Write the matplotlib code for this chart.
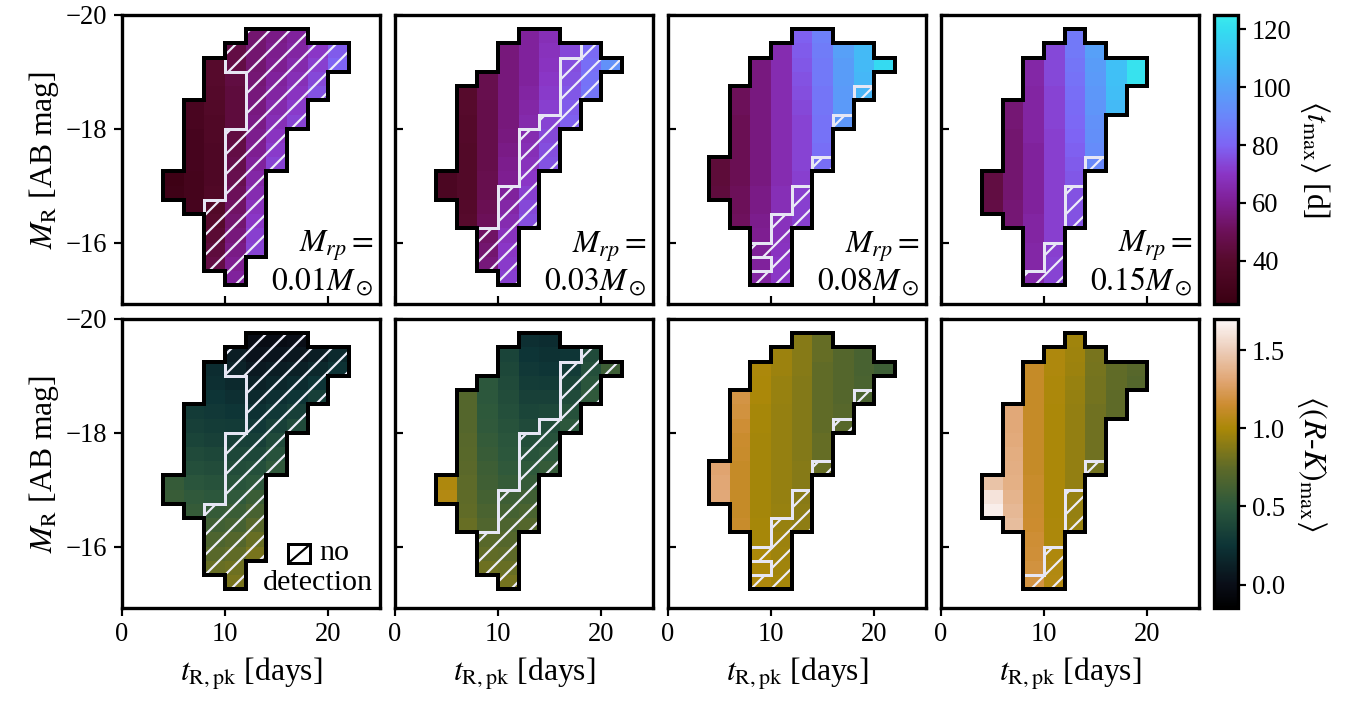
"""Detectability grids: mean t_max and mean (R-K)_max over (t_R,pk, M_R) bins."""
import matplotlib

matplotlib.use("Agg")
import matplotlib.pyplot as plt
import numpy as np
from matplotlib.cm import ScalarMappable
from matplotlib.collections import LineCollection
from matplotlib.colors import LinearSegmentedColormap, Normalize
from matplotlib.patches import Rectangle

n = np.nan

# bin edges: t_R,pk [days] columns, M_R [AB mag] rows (bright -> faint)
T_EDGES = [4, 6, 8, 10, 12, 14, 16, 18, 20, 22]
M_EDGES = [-19.75, -19.5, -19.25, -19.0, -18.75, -18.5, -18.25, -18.0, -17.75,
           -17.5, -17.25, -17.0, -16.75, -16.5, -16.25, -16.0, -15.75, -15.5,
           -15.25]

MRP_LABELS = ["0.01", "0.03", "0.08", "0.15"]

# <t_max> [d], one grid per Mrp
TMAX_001 = [
    [n, n, n, n, 54, 58, 62, n, n],
    [n, n, n, 46, 54, 59, 63, 70, 78],
    [n, n, 40, 46, 54, 60, 65, 72, 80],
    [n, n, 40, 45, 55, 62, 67, 74, n],
    [n, n, 39, 44, 56, 63, 69, 76, n],
    [n, 33, 38, 44, 57, 65, 71, n, n],
    [n, 33, 37, 44, 58, 67, 73, n, n],
    [n, 32, 37, 45, 59, 69, n, n, n],
    [n, 32, 36, 46, 60, 71, n, n, n],
    [n, 32, 36, 47, 62, 73, n, n, n],
    [27, 31, 36, 48, 64, n, n, n, n],
    [28, 31, 37, 50, 66, n, n, n, n],
    [n, 32, 38, 52, 68, n, n, n, n],
    [n, n, 40, 54, 70, n, n, n, n],
    [n, n, 42, 56, 72, n, n, n, n],
    [n, n, 44, 58, 73, n, n, n, n],
    [n, n, 46, 60, n, n, n, n, n],
    [n, n, n, 62, n, n, n, n, n],
]
TMAX_003 = [
    [n, n, n, n, 62, 67, n, n, n],
    [n, n, n, 56, 62, 68, 74, 82, n],
    [n, n, n, 56, 62, 69, 75, 83, 94],
    [n, n, 48, 56, 62, 70, 76, 84, n],
    [n, 40, 48, 56, 63, 71, 77, 85, n],
    [n, 40, 47, 56, 64, 72, 78, n, n],
    [n, 39, 47, 56, 65, 73, 79, n, n],
    [n, 39, 47, 57, 66, 74, n, n, n],
    [n, 38, 47, 58, 67, 75, n, n, n],
    [n, 38, 47, 59, 68, 76, n, n, n],
    [34, 38, 48, 60, 70, n, n, n, n],
    [34, 38, 48, 62, 72, n, n, n, n],
    [n, 39, 49, 64, 74, n, n, n, n],
    [n, 40, 50, 66, 75, n, n, n, n],
    [n, n, 52, 68, n, n, n, n, n],
    [n, n, 54, 70, n, n, n, n, n],
    [n, n, 56, 71, n, n, n, n, n],
    [n, n, n, 72, n, n, n, n, n],
]
TMAX_008 = [
    [n, n, n, n, 79, 88, n, n, n],
    [n, n, n, 66, 78, 87, 99, 108, n],
    [n, n, 57, 66, 77, 86, 98, 108, 119],
    [n, n, 57, 66, 76, 86, 98, 107, n],
    [n, 50, 57, 66, 75, 85, 97, 106, n],
    [n, 50, 57, 66, 74, 85, 97, n, n],
    [n, 49, 57, 66, 73, 84, 96, n, n],
    [n, 49, 57, 66, 73, 84, n, n, n],
    [n, 49, 57, 66, 73, 83, n, n, n],
    [43, 49, 57, 66, 73, 83, n, n, n],
    [43, 49, 57, 66, 72, n, n, n, n],
    [44, 50, 58, 67, 72, n, n, n, n],
    [n, 50, 58, 67, 72, n, n, n, n],
    [n, 51, 59, 68, 72, n, n, n, n],
    [n, n, 60, 68, n, n, n, n, n],
    [n, n, 61, 69, n, n, n, n, n],
    [n, n, 62, 70, n, n, n, n, n],
    [n, n, 63, 70, n, n, n, n, n],
]
TMAX_015 = [
    [n, n, n, n, 86, n, n, n, n],
    [n, n, n, 74, 86, 99, n, n, n],
    [n, n, 64, 74, 85, 98, 110, 122, n],
    [n, n, 64, 74, 84, 97, 110, 122, n],
    [n, n, 63, 73, 83, 96, 109, n, n],
    [n, 55, 63, 73, 82, 95, 108, n, n],
    [n, 55, 63, 73, 81, 94, n, n, n],
    [n, 54, 63, 72, 80, 93, n, n, n],
    [n, 54, 62, 72, 79, 92, n, n, n],
    [n, 54, 62, 72, 78, 91, n, n, n],
    [45, 54, 62, 72, 77, n, n, n, n],
    [45, 54, 62, 72, 76, n, n, n, n],
    [46, 55, 62, 72, 76, n, n, n, n],
    [n, 55, 63, 72, 76, n, n, n, n],
    [n, n, 63, 72, n, n, n, n, n],
    [n, n, 64, 72, n, n, n, n, n],
    [n, n, 64, 73, n, n, n, n, n],
    [n, n, 65, 73, n, n, n, n, n],
]

# <(R-K)_max>, one grid per Mrp
RK_001 = [
    [n, n, n, n, -0.02, -0.02, 0.00, n, n],
    [n, n, n, 0.10, 0.03, 0.04, 0.06, 0.10, 0.18],
    [n, n, 0.20, 0.14, 0.08, 0.10, 0.12, 0.17, 0.24],
    [n, n, 0.22, 0.18, 0.13, 0.16, 0.19, 0.25, n],
    [n, n, 0.25, 0.22, 0.18, 0.22, 0.26, 0.33, n],
    [n, 0.30, 0.28, 0.26, 0.23, 0.28, 0.33, n, n],
    [n, 0.33, 0.31, 0.30, 0.28, 0.34, 0.40, n, n],
    [n, 0.36, 0.34, 0.34, 0.33, 0.40, n, n, n],
    [n, 0.40, 0.38, 0.38, 0.38, 0.46, n, n, n],
    [n, 0.44, 0.42, 0.42, 0.44, 0.52, n, n, n],
    [0.55, 0.48, 0.46, 0.47, 0.50, n, n, n, n],
    [0.56, 0.52, 0.50, 0.52, 0.57, n, n, n, n],
    [n, 0.55, 0.55, 0.57, 0.64, n, n, n, n],
    [n, n, 0.60, 0.63, 0.71, n, n, n, n],
    [n, n, 0.66, 0.70, 0.78, n, n, n, n],
    [n, n, 0.72, 0.76, 0.84, n, n, n, n],
    [n, n, 0.78, 0.80, n, n, n, n, n],
    [n, n, n, 0.84, n, n, n, n, n],
]
RK_003 = [
    [n, n, n, n, 0.22, 0.20, n, n, n],
    [n, n, n, 0.36, 0.25, 0.23, 0.26, 0.40, n],
    [n, n, n, 0.38, 0.28, 0.26, 0.30, 0.44, 0.58],
    [n, n, 0.50, 0.40, 0.31, 0.30, 0.35, 0.48, n],
    [n, 0.70, 0.50, 0.42, 0.34, 0.34, 0.40, 0.52, n],
    [n, 0.70, 0.51, 0.44, 0.37, 0.38, 0.45, n, n],
    [n, 0.70, 0.52, 0.46, 0.40, 0.42, 0.50, n, n],
    [n, 0.71, 0.54, 0.48, 0.43, 0.46, n, n, n],
    [n, 0.72, 0.56, 0.50, 0.47, 0.50, n, n, n],
    [n, 0.73, 0.58, 0.52, 0.51, 0.55, n, n, n],
    [1.02, 0.74, 0.60, 0.55, 0.55, n, n, n, n],
    [1.04, 0.75, 0.62, 0.58, 0.60, n, n, n, n],
    [n, 0.76, 0.65, 0.62, 0.65, n, n, n, n],
    [n, 0.78, 0.68, 0.66, 0.70, n, n, n, n],
    [n, n, 0.72, 0.70, n, n, n, n, n],
    [n, n, 0.76, 0.74, n, n, n, n, n],
    [n, n, 0.80, 0.78, n, n, n, n, n],
    [n, n, n, 0.82, n, n, n, n, n],
]
RK_008 = [
    [n, n, n, n, 0.88, 0.77, n, n, n],
    [n, n, n, 0.95, 0.88, 0.77, 0.70, 0.64, n],
    [n, n, 1.01, 0.95, 0.88, 0.76, 0.70, 0.64, 0.58],
    [n, n, 1.00, 0.94, 0.87, 0.76, 0.70, 0.65, n],
    [n, 1.20, 1.00, 0.94, 0.87, 0.76, 0.70, 0.65, n],
    [n, 1.18, 0.99, 0.93, 0.87, 0.76, 0.71, n, n],
    [n, 1.16, 0.99, 0.93, 0.87, 0.76, 0.71, n, n],
    [n, 1.14, 0.98, 0.93, 0.87, 0.77, n, n, n],
    [n, 1.13, 0.98, 0.93, 0.87, 0.77, n, n, n],
    [1.30, 1.12, 0.98, 0.93, 0.88, 0.78, n, n, n],
    [1.31, 1.12, 0.98, 0.93, 0.88, n, n, n, n],
    [1.32, 1.12, 0.98, 0.93, 0.89, n, n, n, n],
    [n, 1.12, 0.98, 0.94, 0.90, n, n, n, n],
    [n, 1.13, 0.99, 0.94, 0.91, n, n, n, n],
    [n, n, 0.99, 0.95, n, n, n, n, n],
    [n, n, 1.00, 0.96, n, n, n, n, n],
    [n, n, 1.01, 0.97, n, n, n, n, n],
    [n, n, 1.02, 0.98, n, n, n, n, n],
]
RK_015 = [
    [n, n, n, n, 0.97, n, n, n, n],
    [n, n, n, 1.02, 0.96, 0.84, n, n, n],
    [n, n, 1.12, 1.02, 0.95, 0.83, 0.76, 0.71, n],
    [n, n, 1.12, 1.01, 0.94, 0.82, 0.76, 0.70, n],
    [n, n, 1.12, 1.01, 0.93, 0.82, 0.75, n, n],
    [n, 1.32, 1.12, 1.00, 0.92, 0.81, 0.75, n, n],
    [n, 1.32, 1.12, 1.00, 0.92, 0.81, n, n, n],
    [n, 1.33, 1.12, 1.00, 0.92, 0.81, n, n, n],
    [n, 1.34, 1.12, 1.00, 0.92, 0.81, n, n, n],
    [n, 1.35, 1.12, 1.00, 0.92, 0.82, n, n, n],
    [1.45, 1.36, 1.13, 1.00, 0.92, n, n, n, n],
    [1.60, 1.38, 1.13, 1.00, 0.93, n, n, n, n],
    [1.65, 1.40, 1.14, 1.00, 0.93, n, n, n, n],
    [n, 1.42, 1.15, 1.01, 0.94, n, n, n, n],
    [n, n, 1.16, 1.01, n, n, n, n, n],
    [n, n, 1.17, 1.02, n, n, n, n, n],
    [n, n, 1.18, 1.03, n, n, n, n, n],
    [n, n, 1.19, 1.04, n, n, n, n, n],
]

# no-detection bins: (t_R,pk left edge, bright M_R edge, faint M_R edge)
NODET_001 = [(8, -16.75, -15.5), (10, -19.5, -19.0), (10, -18.0, -15.25),
             (12, -19.75, -15.75), (14, -19.75, -17.25), (16, -19.75, -18.0),
             (18, -19.5, -18.5), (20, -19.5, -19.0)]
NODET_003 = [(8, -16.25, -15.5), (10, -17.0, -15.25), (12, -18.0, -16.25),
             (14, -18.25, -17.25), (16, -19.25, -18.0), (18, -19.5, -18.5),
             (20, -19.25, -19.0)]
NODET_008 = [(8, -16.0, -15.75), (8, -15.5, -15.25), (10, -16.5, -15.25),
             (12, -17.0, -16.25), (14, -17.5, -17.25), (16, -18.25, -18.0),
             (18, -18.75, -18.5)]
NODET_015 = [(8, -15.5, -15.25), (10, -16.0, -15.25), (12, -17.0, -16.25),
             (14, -17.5, -17.25)]

TMAX = [TMAX_001, TMAX_003, TMAX_008, TMAX_015]
RK = [RK_001, RK_003, RK_008, RK_015]
NODET = [NODET_001, NODET_003, NODET_008, NODET_015]

cmap_t = LinearSegmentedColormap.from_list("tmax", [
    (0.00, "#3a0012"), (0.15, "#560a2c"), (0.25, "#6c1058"), (0.35, "#7e1e92"),
    (0.45, "#8a36c6"), (0.55, "#7e64f4"), (0.65, "#6a86fa"), (0.75, "#55a2f8"),
    (0.85, "#40c0f6"), (0.95, "#34dcf0"), (1.00, "#3aeaec")])
cmap_rk = LinearSegmentedColormap.from_list("rk", [
    (0.000, "#000000"), (0.081, "#0a0e18"), (0.216, "#0d3436"),
    (0.351, "#2c583c"), (0.486, "#5e6a28"), (0.622, "#aa8808"),
    (0.703, "#cc8c30"), (0.784, "#e0a470"), (0.892, "#ecccb8"),
    (1.000, "#fdf8f8")])
norm_t = Normalize(25, 125)
norm_rk = Normalize(-0.15, 1.7)

plt.rcParams.update({
    "font.family": "serif",
    "font.serif": ["Liberation Serif", "DejaVu Serif"],
    "mathtext.fontset": "stix",
    "hatch.linewidth": 1.3,
    "axes.linewidth": 2.0,
})


def grid_edges(mask, xe, ye):
    segs = []
    nr, nc = mask.shape
    for r in range(nr):
        for c in range(nc):
            if not mask[r, c]:
                continue
            x0, x1, y0, y1 = xe[c], xe[c + 1], ye[r], ye[r + 1]
            if r == 0 or not mask[r - 1, c]:
                segs.append([(x0, y0), (x1, y0)])
            if r == nr - 1 or not mask[r + 1, c]:
                segs.append([(x0, y1), (x1, y1)])
            if c == 0 or not mask[r, c - 1]:
                segs.append([(x0, y0), (x0, y1)])
            if c == nc - 1 or not mask[r, c + 1]:
                segs.append([(x1, y0), (x1, y1)])
    return segs


def nodet_mask(runs, shape):
    m = np.zeros(shape, dtype=bool)
    for t0, m0, m1 in runs:
        c = T_EDGES.index(t0)
        r0 = M_EDGES.index(m0)
        r1 = M_EDGES.index(m1)
        m[r0:r1, c] = True
    return m


def draw_panel(ax, z, runs, cmap, norm):
    z = np.array(z, dtype=float)
    ax.pcolormesh(T_EDGES, M_EDGES, np.ma.masked_invalid(z), cmap=cmap,
                  norm=norm, zorder=1)
    for t0, m0, m1 in runs:
        ax.add_patch(Rectangle((t0, m0), 2, m1 - m0, facecolor="none",
                               edgecolor="#eeeefa", lw=0, hatch="//", zorder=2))
    hm = nodet_mask(runs, z.shape)
    lc = LineCollection(grid_edges(hm, T_EDGES, M_EDGES), colors="#e6e6f4",
                        linewidths=1.8, zorder=3, capstyle="projecting")
    ax.add_collection(lc)
    lc = LineCollection(grid_edges(~np.isnan(z), T_EDGES, M_EDGES),
                        colors="black", linewidths=2.4, zorder=4,
                        capstyle="projecting")
    ax.add_collection(lc)
    ax.set_xlim(0, 25)
    ax.set_ylim(-14.92, -20)
    ax.set_xticks([0, 10, 20])
    ax.set_yticks([-20, -18, -16])


W, H = 1353, 702
fig = plt.figure(figsize=(W / 120, H / 120), dpi=120)
rows = [(TMAX, cmap_t, norm_t), (RK, cmap_rk, norm_rk)]
row_top = [15, 319]
ax_h = 289

for ri, (data, cmap, norm) in enumerate(rows):
    bottom = 1 - (row_top[ri] + ax_h) / H
    for ci in range(4):
        ax = fig.add_axes([(121.7 + 273 * ci) / W, bottom, 258.3 / W, ax_h / H])
        draw_panel(ax, data[ci], NODET[ci], cmap, norm)
        ax.tick_params(labelsize=16, width=1.3, length=5)
        if ri == 0:
            ax.tick_params(axis="x", direction="in", labelbottom=False)
            ax.text(0.975, 0.02, "$M_{rp} =$\n$%sM_\\odot$" % MRP_LABELS[ci],
                    transform=ax.transAxes, ha="right", va="bottom",
                    ma="right", fontsize=19, linespacing=1.15, zorder=5)
        else:
            ax.tick_params(axis="x", direction="out")
            ax.set_xlabel(r"$t_{\rm R,pk}$ [days]", fontsize=19, labelpad=5)
        if ci == 0:
            ax.tick_params(axis="y", direction="out")
            ax.set_ylabel(r"$M_{\rm R}$ [AB mag]", fontsize=19, labelpad=3)
        else:
            ax.tick_params(axis="y", direction="in", labelleft=False)
        if ri == 1 and ci == 0:
            ax.add_patch(Rectangle((0.645, 0.155), 0.085, 0.066,
                                   transform=ax.transAxes, facecolor="white",
                                   edgecolor="black", lw=1.8, zorder=5))
            ax.plot([0.655, 0.72], [0.163, 0.213], color="black", lw=1.3,
                    transform=ax.transAxes, zorder=6)
            ax.text(0.765, 0.19, "no", transform=ax.transAxes, ha="left",
                    va="center", fontsize=18, zorder=6)
            ax.text(0.76, 0.085, "detection", transform=ax.transAxes,
                    ha="center", va="center", fontsize=18, zorder=6)

    cax = fig.add_axes([1214 / W, bottom, 24 / W, ax_h / H])
    cb = fig.colorbar(ScalarMappable(norm=norm, cmap=cmap), cax=cax)
    cb.outline.set_linewidth(2.0)
    cb.ax.tick_params(labelsize=16, width=1.3, length=5)
    if ri == 0:
        cb.set_ticks([40, 60, 80, 100, 120])
        cb.set_label(r"$\langle t_{\rm max}\rangle$ [d]", rotation=270,
                     fontsize=19, labelpad=24)
    else:
        cb.set_ticks([0.0, 0.5, 1.0, 1.5])
        cb.set_ticklabels(["0.0", "0.5", "1.0", "1.5"])
        cb.set_label(r"$\langle(R$-$K)_{\rm max}\rangle$", rotation=270,
                     fontsize=19, labelpad=26)

fig.savefig("out.png", dpi=120)
